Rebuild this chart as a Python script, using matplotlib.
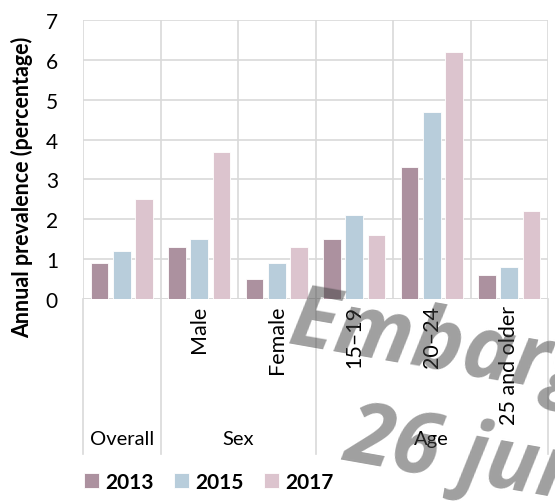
import matplotlib
matplotlib.use("Agg")
import matplotlib.pyplot as plt
from matplotlib.lines import Line2D
from matplotlib import font_manager
import numpy as np

plt.rcParams['font.family'] = ['Lato', 'DejaVu Sans']

categories = ["Overall", "Male", "Female", "15–19", "20–24", "25 and older"]
tick_labels = ["", "Male", "Female", "15–19", "20–24", "25 and older"]
groups = ["Overall", "Sex", "Age"]
group_spans = [(0, 0), (1, 2), (3, 5)]
series_names = ["2013", "2015", "2017"]
v2013 = [0.9, 1.3, 0.5, 1.5, 3.3, 0.6]
v2015 = [1.2, 1.5, 0.9, 2.1, 4.7, 0.8]
v2017 = [2.5, 3.7, 1.3, 1.6, 6.2, 2.2]
series_values = [v2013, v2015, v2017]
colors = ["#AC919F", "#B8CDDB", "#DCC4CE"]
yticks = [0, 1, 2, 3, 4, 5, 6, 7]
watermark_lines = ["Embargo", "26 june", "06:00 GMT"]


def pick_bold_italic():
    prefs = ["Open Sans", "Noto Sans", "Roboto", "Lato", "Liberation Sans", "DejaVu Sans"]
    for fam in prefs:
        best = None
        for f in font_manager.fontManager.ttflist:
            if f.name != fam or f.style not in ("italic", "oblique"):
                continue
            w = f.weight if isinstance(f.weight, int) else 400
            if w >= 600 and (best is None or abs(w - 700) < abs(best[0] - 700)):
                best = (w, f.fname)
        if best:
            return font_manager.FontProperties(fname=best[1])
    return font_manager.FontProperties(family="DejaVu Sans", weight="bold", style="italic")


W, H = 555, 502
fig = plt.figure(figsize=(W / 100, H / 100), dpi=100)
ax = fig.add_axes([83 / W, (H - 300) / H, (548 - 83) / W, (300 - 21) / H])

x = np.arange(len(categories))
step = 0.29
width = 0.226
handles = []
for i, (name, vals, c) in enumerate(zip(series_names, series_values, colors)):
    b = ax.bar(x + (i - 1) * step, vals, width=width, color=c, label=name,
               edgecolor="white", linewidth=0.6, zorder=3)
    handles.append(b)

grid_c = "#D9D9D9"
ax.set_xlim(-0.5, len(categories) - 0.5)
ax.set_ylim(0, 7)
ax.set_yticks(yticks)
ax.set_yticklabels([str(t) for t in yticks], fontsize=15)
ax.tick_params(axis="y", length=0, pad=18)
ax.set_xticks(x)
ax.set_xticklabels(tick_labels, rotation=90, fontsize=15.5, va="top", ha="center")
ax.tick_params(axis="x", length=0, pad=4)
ax.set_xticks(np.arange(-0.5, len(categories), 1.0), minor=True)
ax.tick_params(axis="x", which="minor", length=0)
ax.grid(True, which="major", axis="y", color=grid_c, linewidth=1.2, zorder=0)
ax.grid(True, which="minor", axis="x", color=grid_c, linewidth=1.2, zorder=0)
ax.grid(False, which="major", axis="x")
for s in ax.spines.values():
    s.set_visible(False)
ax.axhline(0, color=grid_c, linewidth=1.2, zorder=1)

# multi-level category axis
tr = ax.get_xaxis_transform()
y_bottom = -(455 - 300) / (300 - 21)
bounds = [-0.5] + [hi + 0.5 for (lo, hi) in group_spans]
for bx in bounds:
    ax.add_line(Line2D([bx, bx], [0, y_bottom], transform=tr, color=grid_c,
                       linewidth=1.2, clip_on=False))
y_grp = -(440 - 300) / (300 - 21)
for g, (lo, hi) in zip(groups, group_spans):
    ax.text((lo + hi) / 2, y_grp, g, transform=tr, ha="center", va="center",
            fontsize=14.5, color="black")

fig.text(22 / W, 1 - 187 / H, "Annual prevalence (percentage)", rotation=90,
         ha="center", va="center", fontsize=15.5, fontweight="bold")

leg = fig.legend(handles=handles, labels=series_names, loc="center left",
                 bbox_to_anchor=(84 / W, 1 - 483 / H), ncol=3, frameon=False,
                 prop={"weight": "bold", "size": 15}, handlelength=0.7,
                 handleheight=0.7, handletextpad=0.3, columnspacing=1.0,
                 borderpad=0, borderaxespad=0)

# watermark
wm_prop = pick_bold_italic()
wm_prop.set_size(62)
wm_kw = dict(fontproperties=wm_prop, color="#414141", alpha=0.5, rotation=-10,
             rotation_mode="anchor", ha="left", va="baseline", zorder=10)
anchors = [(286, 343), (342, 459), (243, 563)]
for (px, py), line in zip(anchors, watermark_lines):
    fig.text(px / W, 1 - py / H, line, **wm_kw)

fig.savefig("out.png", dpi=100)
